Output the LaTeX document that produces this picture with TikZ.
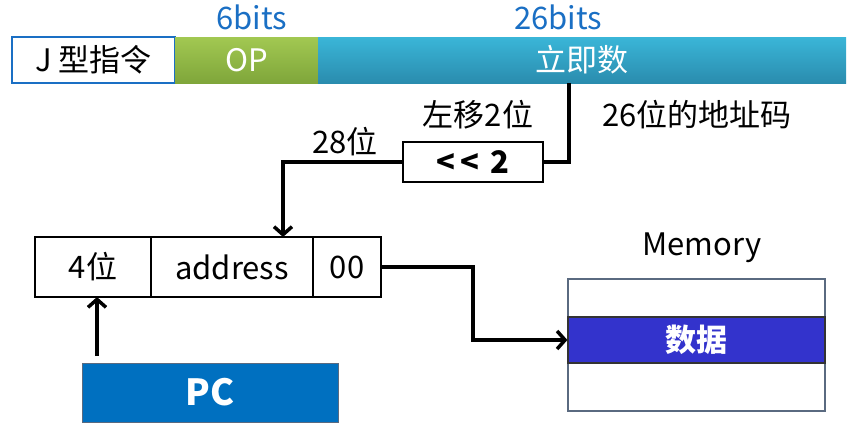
\documentclass[tikz,border=0pt]{standalone}
\usepackage{fontspec}
\setmainfont{Noto Sans CJK SC}
\usepackage{tikz}
\usetikzlibrary{arrows.meta,positioning,calc}

\definecolor{fieldblue}{HTML}{1A6FC4}
\definecolor{pcblue}{HTML}{0070C0}
\definecolor{databand}{HTML}{3333CC}
\definecolor{memedge}{HTML}{5A6A80}
\definecolor{optop}{HTML}{A2C852}
\definecolor{opbottom}{HTML}{7FA63A}
\definecolor{immtop}{HTML}{3AB6D8}
\definecolor{immbottom}{HTML}{2A8CAE}

\begin{document}
\begin{tikzpicture}[
    x=1pt, y=-1pt,
    font=\fontsize{31}{34}\selectfont,
    field/.style={inner sep=0pt, outer sep=0pt, minimum height=46pt, align=center},
    namebox/.style={field, draw=fieldblue, line width=1.8pt, minimum width=163pt},
    opfield/.style={field, text=white, top color=optop, bottom color=opbottom, minimum width=143pt},
    immfield/.style={field, text=white, top color=immtop, bottom color=immbottom, minimum width=528pt},
    bitlabel/.style={text=fieldblue},
    cell/.style={draw, line width=1.5pt, inner sep=0pt, outer sep=0pt, minimum height=60pt},
    arrow/.style={-{Straight Barb[length=8pt,width=18pt,line width=3.5pt]}, line width=3.5pt},
    wire/.style={line width=3.5pt}
]
    \useasboundingbox (0,0) rectangle (862,429);

    % J-type instruction fields
    \node[namebox] (jtype) at (93.5,60) {J 型指令};
    \node[opfield, right=0pt of jtype] (op) {OP};
    \node[immfield, right=0pt of op] (imm) {立即数};
    \node[bitlabel] (bits6) at (252,17) {6bits};
    \node[bitlabel] (bits26) at (558,17) {26bits};

    % shifter
    \node[draw, line width=1.2pt, minimum width=140pt, minimum height=40pt, inner sep=0pt, font=\fontsize{31}{34}\selectfont\bfseries] (shift) at (473,162) {<\hspace{5pt}<\hspace{12pt}2};
    \node (shiftlabel) at (478,115) {左移2位};
    \node (addrlabel) at (697,115) {26位的地址码};
    \node (width28) at (345,142) {28位};

    % jump target
    \node[cell, minimum width=116pt] (hi4) at (93,267) {4位};
    \node[cell, minimum width=162pt, right=0pt of hi4] (addr) {address};
    \node[cell, minimum width=68pt, right=0pt of addr] (low2) {00};

    \node[fill=pcblue, draw=memedge, text=white, minimum width=256pt, minimum height=59pt, font=\fontsize{36}{40}\selectfont\bfseries] (pc) at (210,392.5) {PC};

    % memory
    \node (memlabel) at (702,248) {Memory};
    \node[draw=memedge, line width=1.5pt, minimum width=257pt, minimum height=132pt] (mem) at (696.5,345) {};
    \node[fill=databand, draw=black!80, line width=1.2pt, minimum width=257pt, minimum height=46pt, text=white, font=\fontsize{31}{34}\selectfont\bfseries] (data) at (696.5,340) {数据};

    \coordinate (turn) at (569,162);
    \coordinate (drop) at (283,237);
    \coordinate (pcout) at (97,356);

    \draw[wire] (imm.south -| turn) |- (shift.east);
    \draw[arrow] (shift.west) -| (addr.north -| drop);
    \draw[arrow] (pcout) -- (hi4.south -| pcout);
    \draw[arrow] (low2.east) -- ++(92,0) |- (data.west);
\end{tikzpicture}
\end{document}
